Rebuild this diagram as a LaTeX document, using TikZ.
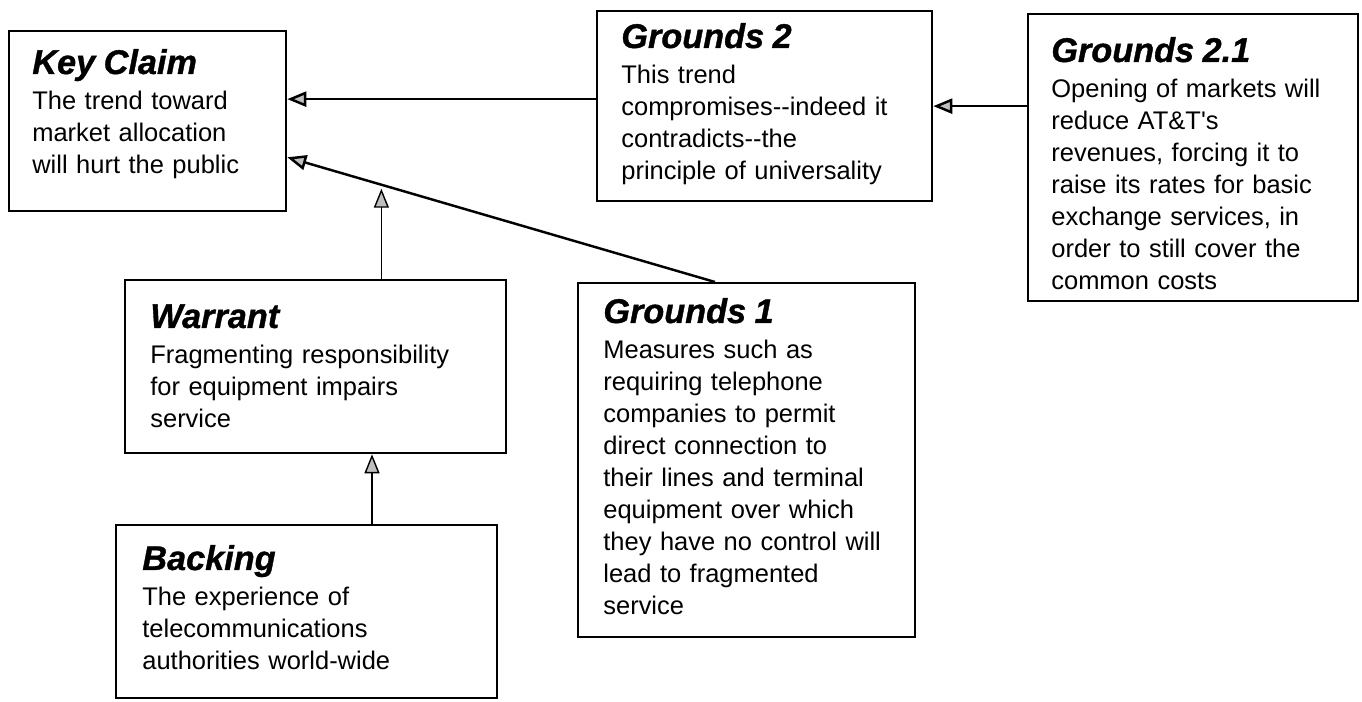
\documentclass[tikz,border=0pt]{standalone}
\usepackage{fontspec}
\setmainfont{Liberation Sans}
\newfontfamily\headfont[FakeBold=1]{Liberation Sans}
\usepackage{tikz}
\usetikzlibrary{arrows.meta}

\newcommand{\boxhead}[1]{{\fontsize{19.5}{22}\headfont\bfseries\itshape #1}\\[2pt]}

\begin{document}
\begin{tikzpicture}[
  box/.style={draw, line width=1.3pt, rectangle, anchor=north west, inner sep=0pt},
  txt/.style={anchor=base west, inner sep=0pt, text width=7.2cm, align=left, font=\fontsize{14.5}{18.2}\selectfont},
  link/.style={line width=1.4pt, -{Triangle[open, length=0.38cm, width=0.3cm, fill=gray!50]}},
  thin link/.style={link, line width=0.8pt}
]
\useasboundingbox (0,0) rectangle (27.24,-14.04);

\node[box, minimum width=5.54cm, minimum height=3.60cm] (claim) at (0.16,-0.60) {};
\node[box, minimum width=6.70cm, minimum height=3.80cm] (grounds2) at (11.92,-0.20) {};
\node[box, minimum width=6.60cm, minimum height=5.74cm] (grounds21) at (20.54,-0.26) {};
\node[box, minimum width=7.62cm, minimum height=3.46cm] (warrant) at (2.48,-5.58) {};
\node[box, minimum width=6.74cm, minimum height=7.08cm] (grounds1) at (11.54,-5.64) {};
\node[box, minimum width=7.62cm, minimum height=3.46cm] (backing) at (2.30,-10.48) {};

\node[txt] (claim-text) at ([shift={(0.48,-0.88)}]claim.north west)
  {\boxhead{Key Claim}The trend toward\\market allocation\\will hurt the public};
\node[txt] (grounds2-text) at ([shift={(0.50,-0.76)}]grounds2.north west)
  {\boxhead{Grounds 2}This trend\\compromises-{}-indeed it\\contradicts-{}-the\\principle of universality};
\node[txt] (grounds21-text) at ([shift={(0.48,-0.98)}]grounds21.north west)
  {\boxhead{Grounds 2.1}Opening of markets will\\reduce AT\&T\textquotesingle s\\revenues, forcing it to\\raise its rates for basic\\exchange services, in\\order to still cover the\\common costs};
\node[txt] (warrant-text) at ([shift={(0.52,-0.98)}]warrant.north west)
  {\boxhead{Warrant}Fragmenting responsibility\\for equipment impairs\\service};
\node[txt] (grounds1-text) at ([shift={(0.52,-0.82)}]grounds1.north west)
  {\boxhead{Grounds 1}Measures such as\\requiring telephone\\companies to permit\\direct connection to\\their lines and terminal\\equipment over which\\they have no control will\\lead to fragmented\\service};
\node[txt] (backing-text) at ([shift={(0.54,-0.92)}]backing.north west)
  {\boxhead{Backing}The experience of\\telecommunications\\authorities world-wide};

\coordinate (g2out) at ([yshift=0.14cm]grounds2.west);
\coordinate (g21out) at (grounds21.west |- grounds2.east);
\coordinate (g1out) at ([xshift=2.76cm]grounds1.north west);
\coordinate (claimin) at ([yshift=1.1cm]claim.south east);
\coordinate (bkout) at ([xshift=5.14cm]backing.north west);

\draw[link] (g2out) -- (g2out -| claim.east);
\draw[link] (g21out) -- (g21out -| grounds2.east);
\draw[link] (g1out) -- coordinate[pos=0.78] (inference) (claimin);
\draw[thin link, shorten >=0.08cm] (warrant.north -| inference) -- (inference);
\draw[thin link] (bkout) -- (bkout |- warrant.south);
\end{tikzpicture}
\end{document}
